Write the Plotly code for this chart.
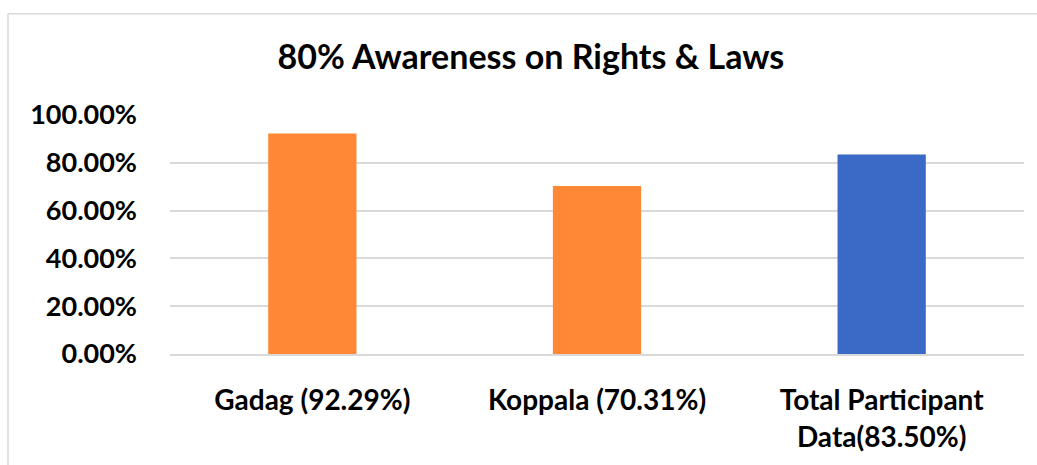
import plotly.graph_objects as go

categories = ["Gadag (92.29%)", "Koppala (70.31%)", "Total Participant<br>Data(83.50%)"]
values = [0.9229, 0.7031, 0.8350]
bar_colors = ["#FF8836", "#FF8836", "#3A69C6"]

fig = go.Figure()
fig.add_trace(go.Bar(
    x=categories, y=values,
    marker=dict(color=bar_colors, line=dict(width=0)),
    showlegend=False,
))

# outer chart border: only top and left edges show in the cropped reference
border = dict(color="#D9D9D9", width=1.5)
fig.add_shape(type="line", xref="paper", yref="paper",
              x0=-0.1897, x1=1.3, y0=1.4239, y1=1.4239, line=border)
fig.add_shape(type="line", xref="paper", yref="paper",
              x0=-0.1897, x1=-0.1897, y0=-0.8, y1=1.4239, line=border)

fig.update_layout(
    width=1037, height=465,
    margin=dict(l=170, r=13, t=115, b=107),
    paper_bgcolor="white", plot_bgcolor="white",
    bargap=0.69,
    font=dict(family="Lato, Open Sans, sans-serif", color="black", size=28),
    title=dict(
        text="<b>80% Awareness on Rights & Laws</b>",
        x=0.512, xanchor="center", y=0.877, yanchor="middle",
        font=dict(size=34, color="black"),
    ),
)
fig.update_yaxes(
    range=[0, 1], dtick=0.2, tickformat=".2%",
    showgrid=True, gridcolor="#D9D9D9", gridwidth=1.5,
    zeroline=False, showline=False, ticks="",
    tickfont=dict(size=27, color="black", weight="bold"),
    ticklabelstandoff=32,
)
fig.update_xaxes(
    showline=True, linecolor="#D9D9D9", linewidth=1.5, ticks="",
    tickfont=dict(size=28, color="black", weight="bold"),
    ticklabelstandoff=21,
)

fig.write_html(
    "out.html",
    config={"displayModeBar": False},
    post_script="document.body.style.margin='0';document.body.style.overflow='hidden';",
)
